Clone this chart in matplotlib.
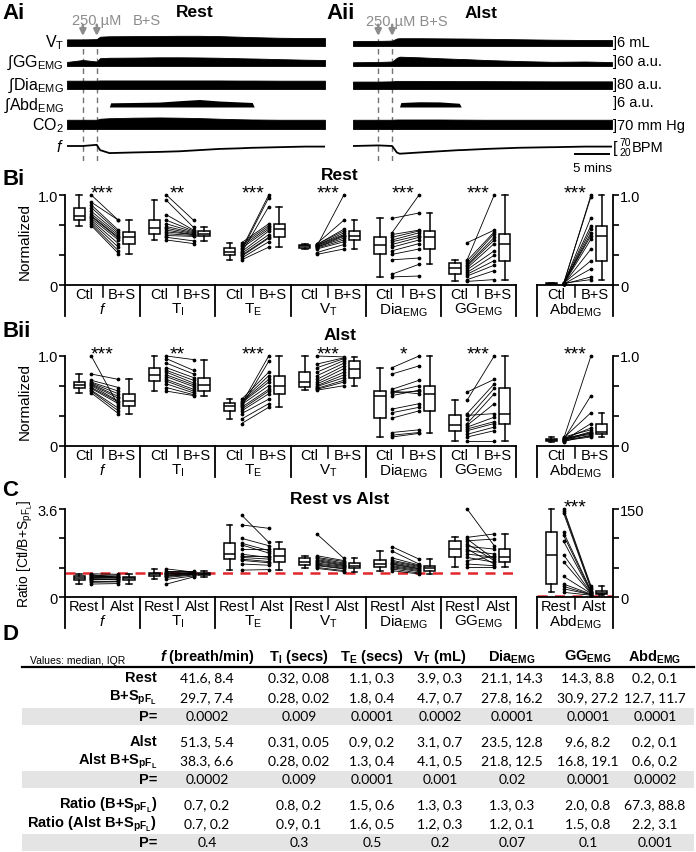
import matplotlib
matplotlib.use("Agg")
import matplotlib.pyplot as plt
from matplotlib.patches import Rectangle

W, H = 696, 853

plt.rcParams["font.family"] = ["Liberation Sans", "DejaVu Sans"]
plt.rcParams["mathtext.fontset"] = "custom"
plt.rcParams["mathtext.rm"] = "Liberation Sans"
plt.rcParams["mathtext.it"] = "Liberation Sans:italic"
plt.rcParams["mathtext.bf"] = "Liberation Sans:bold"
plt.rcParams["mathtext.bfit"] = "Liberation Sans:bold:italic"

# ---- A: envelopes of the raw recordings (time in minutes) ----
T_REST = [0, 2.4, 4.5, 5.0, 6.4, 6.6, 10, 14, 17, 20, 23, 26, 28, 28.3, 32, 36, 39]
VT_REST = [4.4, 4.4, 4.6, 6.2, 6.5, 6.5, 6.6, 6.7, 6.8, 6.8, 6.6, 6.2, 5.9, 5.9, 5.5, 5.3, 5.3]
GG_REST = [27, 40, 30, 52, 55, 55, 56, 58, 58, 57, 55, 52, 50, 50, 46, 42, 40]
DIA_REST = [74, 74, 74, 76, 76, 76, 76, 76, 76, 76, 76, 75, 75, 75, 74, 74, 74]
ABD_REST = [0, 0, 0, 0, 0, 2.8, 3.0, 3.3, 4.2, 5.0, 4.0, 3.4, 3.0, 0, 0, 0, 0]
CO2_REST = [72, 72, 72, 80, 84, 84, 88, 90, 88, 85, 80, 76, 74, 74, 72, 72, 72]
F_REST = [42, 42, 44, 35, 30, 30, 31, 32, 33, 35, 37, 38, 39, 39, 40, 41, 41]
ARROWS_REST = [2.4, 4.5]

T_ALST = [0, 3.8, 5.9, 6.6, 7.0, 7.2, 10, 13, 16, 16.3, 20, 25, 30, 30.3, 35, 39]
VT_ALST = [3.3, 3.4, 3.6, 5.0, 5.2, 5.2, 5.2, 5.1, 5.0, 5.0, 4.8, 4.5, 4.2, 4.2, 4.0, 4.0]
GG_ALST = [25, 27, 30, 55, 62, 62, 58, 52, 47, 47, 40, 33, 28, 28, 30, 26]
DIA_ALST = [66, 66, 68, 72, 72, 72, 72, 71, 70, 70, 70, 69, 68, 68, 68, 68]
ABD_ALST = [0, 0, 0, 0, 0, 3.0, 3.5, 3.4, 2.5, 0, 0, 0, 0, 0, 0, 0]
CO2_ALST = [72, 72, 72, 74, 74, 74, 74, 74, 73, 73, 72, 72, 72, 72, 72, 72]
F_ALST = [51, 52, 51, 40, 38, 38, 40, 42, 44, 44, 46, 48, 49, 49, 50, 50]
ARROWS_ALST = [3.8, 5.9]

TRACE_NAMES = ["V$_\\mathrm{T}$", "\u222bGG$_\\mathrm{EMG}$", "\u222bDia$_\\mathrm{EMG}$",
               "\u222bAbd$_\\mathrm{EMG}$", "CO$_2$", "$f$"]
SCALE_TEXT = ["]6 mL", "]60 a.u.", "]80 a.u.", "]6 a.u.", "]70 mm Hg"]

# ---- B: normalized values, paired per animal (n=13) ----
GROUPS = ["$f$", "T$_\\mathrm{I}$", "T$_\\mathrm{E}$", "V$_\\mathrm{T}$",
          "Dia$_\\mathrm{EMG}$", "GG$_\\mathrm{EMG}$"]
ABD_NAME = "Abd$_\\mathrm{EMG}$"

BI_F_CTL = [1.00, 0.92, 0.89, 0.86, 0.82, 0.79, 0.77, 0.76, 0.74, 0.72, 0.70, 0.68, 0.66]
BI_F_BS = [0.72, 0.72, 0.61, 0.59, 0.57, 0.55, 0.53, 0.52, 0.50, 0.46, 0.42, 0.38, 0.35]
BI_TI_CTL = [1.00, 0.94, 0.78, 0.72, 0.68, 0.65, 0.63, 0.61, 0.59, 0.57, 0.55, 0.53, 0.50]
BI_TI_BS = [0.72, 0.64, 0.61, 0.60, 0.59, 0.58, 0.57, 0.56, 0.56, 0.55, 0.54, 0.49, 0.46]
BI_TE_CTL = [0.40, 0.38, 0.36, 0.47, 0.45, 0.43, 0.41, 0.37, 0.35, 0.33, 0.32, 0.30, 0.28]
BI_TE_BS = [1.00, 0.97, 0.87, 0.68, 0.66, 0.64, 0.62, 0.60, 0.56, 0.53, 0.52, 0.48, 0.42]
BI_VT_CTL = [0.43, 0.46, 0.45, 0.45, 0.44, 0.44, 0.43, 0.42, 0.42, 0.41, 0.40, 0.36, 0.34]
BI_VT_BS = [1.00, 0.72, 0.62, 0.60, 0.58, 0.56, 0.55, 0.54, 0.52, 0.50, 0.48, 0.45, 0.40]
BI_DIA_CTL = [0.74, 0.58, 0.56, 0.53, 0.50, 0.48, 0.45, 0.42, 0.38, 0.34, 0.28, 0.12, 0.09]
BI_DIA_BS = [0.80, 1.00, 0.61, 0.60, 0.58, 0.55, 0.53, 0.50, 0.46, 0.40, 0.30, 0.23, 0.10]
BI_GG_CTL = [0.47, 0.28, 0.27, 0.24, 0.22, 0.21, 0.19, 0.17, 0.14, 0.12, 0.10, 0.06, 0.04]
BI_GG_BS = [0.61, 1.00, 0.59, 0.57, 0.53, 0.50, 0.46, 0.38, 0.33, 0.27, 0.22, 0.16, 0.06]
BI_ABD_CTL = [0.01, 0.02, 0.01, 0.02, 0.01, 0.01, 0.02, 0.01, 0.01, 0.02, 0.01, 0.01, 0.02]
BI_ABD_BS = [1.00, 0.98, 0.75, 0.66, 0.62, 0.58, 0.55, 0.51, 0.40, 0.27, 0.18, 0.09, 0.06]

BII_F_CTL = [1.00, 0.80, 0.73, 0.71, 0.70, 0.69, 0.68, 0.67, 0.65, 0.64, 0.62, 0.61, 0.59]
BII_F_BS = [0.45, 0.74, 0.65, 0.61, 0.58, 0.55, 0.53, 0.50, 0.49, 0.47, 0.42, 0.39, 0.36]
BII_TI_CTL = [1.00, 0.97, 0.92, 0.87, 0.84, 0.82, 0.79, 0.77, 0.74, 0.72, 0.69, 0.65, 0.61]
BII_TI_BS = [0.96, 0.84, 0.80, 0.76, 0.73, 0.70, 0.68, 0.66, 0.63, 0.61, 0.59, 0.57, 0.56]
BII_TE_CTL = [0.47, 0.44, 0.52, 0.50, 0.49, 0.48, 0.46, 0.43, 0.41, 0.39, 0.36, 0.30, 0.25]
BII_TE_BS = [1.00, 0.94, 0.82, 0.78, 0.74, 0.71, 0.67, 0.63, 0.61, 0.58, 0.52, 0.47, 0.43]
BII_VT_CTL = [1.00, 0.91, 0.87, 0.82, 0.78, 0.74, 0.71, 0.69, 0.67, 0.66, 0.64, 0.63, 0.62]
BII_VT_BS = [0.99, 0.98, 0.97, 0.95, 0.92, 0.89, 0.86, 0.82, 0.79, 0.76, 0.73, 0.71, 0.67]
BII_DIA_CTL = [0.87, 0.80, 0.63, 0.61, 0.60, 0.59, 0.56, 0.41, 0.37, 0.31, 0.15, 0.12, 0.10]
BII_DIA_BS = [1.00, 0.89, 0.73, 0.58, 0.67, 0.61, 0.62, 0.47, 0.43, 0.39, 0.18, 0.15, 0.14]
BII_GG_CTL = [0.60, 0.51, 0.36, 0.34, 0.30, 0.25, 0.23, 0.21, 0.19, 0.17, 0.13, 0.10, 0.06]
BII_GG_BS = [0.74, 1.00, 0.69, 0.36, 0.64, 0.58, 0.47, 0.32, 0.27, 0.25, 0.21, 0.17, 0.06]
BII_ABD_CTL = [0.08, 0.07, 0.09, 0.06, 0.08, 0.10, 0.07, 0.06, 0.09, 0.08, 0.05, 0.07, 0.06]
BII_ABD_BS = [1.00, 0.56, 0.37, 0.25, 0.20, 0.18, 0.16, 0.15, 0.14, 0.13, 0.12, 0.11, 0.10]

# ---- C: ratio Ctl / B+S, Rest vs Alst ----
C_F_REST = [0.95, 0.92, 0.88, 0.85, 0.82, 0.80, 0.78, 0.75, 0.72, 0.70, 0.66, 0.60, 0.53]
C_F_ALST = [0.93, 0.80, 0.90, 0.82, 0.86, 0.78, 0.80, 0.74, 0.70, 0.72, 0.66, 0.62, 0.55]
C_TI_REST = [1.15, 1.08, 1.04, 1.00, 0.97, 0.95, 0.93, 0.90, 0.87, 0.84, 0.80, 0.72, 0.53]
C_TI_ALST = [1.02, 1.08, 1.00, 1.04, 0.98, 0.96, 0.97, 0.94, 0.92, 0.93, 0.90, 0.86, 0.82]
C_TE_REST = [3.35, 2.95, 2.40, 2.20, 2.13, 1.95, 1.75, 1.69, 1.62, 1.55, 1.50, 1.35, 1.10]
C_TE_ALST = [2.24, 2.81, 2.10, 1.90, 1.80, 1.95, 1.62, 1.69, 1.55, 1.45, 1.40, 1.30, 1.12]
C_VT_REST = [2.58, 1.69, 1.62, 1.58, 1.53, 1.49, 1.45, 1.39, 1.35, 1.31, 1.28, 1.21, 1.17]
C_VT_ALST = [1.58, 1.49, 1.45, 1.39, 1.35, 1.31, 1.28, 1.25, 1.21, 1.17, 1.15, 1.08, 1.04]
C_DIA_REST = [2.06, 1.88, 1.60, 1.50, 1.45, 1.40, 1.36, 1.33, 1.28, 1.24, 1.20, 1.15, 1.08]
C_DIA_ALST = [1.55, 1.35, 1.31, 1.28, 1.25, 1.21, 1.17, 1.15, 1.12, 1.08, 1.04, 0.98, 0.94]
C_GG_REST = [3.60, 2.44, 2.37, 2.30, 2.17, 2.07, 1.96, 1.90, 1.76, 1.62, 1.49, 1.35, 1.21]
C_GG_ALST = [2.10, 2.58, 1.55, 2.37, 1.49, 1.96, 1.35, 1.76, 1.62, 1.42, 1.66, 1.28, 1.21]
C_ABD_REST = [150, 147, 143, 110, 105, 95, 72, 60, 35, 22, 18, 14, 8]
C_ABD_ALST = [19, 16, 14, 11, 9, 8, 7, 6, 6, 5, 4, 4, 3]

BI_STARS = ["***", "**", "***", "***", "***", "***"]
BII_STARS = ["***", "**", "***", "***", "*", "***"]
C_STARS = ["", "", "", "", "", ""]

# ---- D: table (median, IQR) ----
TABLE_HEAD = ["$\\mathbfit{f}$ (breath/min)", "T$_\\mathbf{I}$ (secs)", "T$_\\mathbf{E}$ (secs)",
              "V$_\\mathbf{T}$ (mL)", "Dia$_\\mathbf{EMG}$", "GG$_\\mathbf{EMG}$", "Abd$_\\mathbf{EMG}$"]
PFL = "$_{\\mathbf{pF}_\\mathbf{L}}$"
ROW_NAMES = ["Rest", "B+S" + PFL, "P=", "Alst", "Alst B+S" + PFL, "P=",
             "Ratio (B+S" + PFL + ")", "Ratio (Alst B+S" + PFL + ")", "P="]
ROW_REST = ["41.6, 8.4", "0.32, 0.08", "1.1, 0.3", "3.9, 0.3", "21.1, 14.3", "14.3, 8.8", "0.2, 0.1"]
ROW_BS = ["29.7, 7.4", "0.28, 0.02", "1.8, 0.4", "4.7, 0.7", "27.8, 16.2", "30.9, 27.2", "12.7, 11.7"]
ROW_P1 = ["0.0002", "0.009", "0.0001", "0.0002", "0.0001", "0.0001", "0.0001"]
ROW_ALST = ["51.3, 5.4", "0.31, 0.05", "0.9, 0.2", "3.1, 0.7", "23.5, 12.8", "9.6, 8.2", "0.2, 0.1"]
ROW_ALST_BS = ["38.3, 6.6", "0.28, 0.02", "1.3, 0.4", "4.1, 0.5", "21.8, 12.5", "16.8, 19.1", "0.6, 0.2"]
ROW_P2 = ["0.0002", "0.009", "0.0001", "0.001", "0.02", "0.0001", "0.0002"]
ROW_RATIO = ["0.7, 0.2", "0.8, 0.2", "1.5, 0.6", "1.3, 0.3", "1.3, 0.3", "2.0, 0.8", "67.3, 88.8"]
ROW_RATIO_ALST = ["0.7, 0.2", "0.9, 0.1", "1.6, 0.5", "1.2, 0.3", "1.2, 0.1", "1.5, 0.8", "2.2, 3.1"]
ROW_P3 = ["0.4", "0.3", "0.5", "0.2", "0.07", "0.1", "0.001"]

fig = plt.figure(figsize=(W / 100, H / 100), dpi=100)


def px_axes(x0, y0, x1, y1):
    # axes placed in pixel coordinates (y down)
    return fig.add_axes([x0 / W, 1 - y1 / H, (x1 - x0) / W, (y1 - y0) / H])


lay = px_axes(0, 0, W, H)
lay.set_xlim(0, W)
lay.set_ylim(H, 0)
lay.axis("off")

for lab, x, y in [("Ai", 2, 13), ("Aii", 326, 13), ("Bi", 2, 179), ("Bii", 2, 331),
                  ("C", 2, 491), ("D", 2, 634)]:
    lay.text(x, y, lab, fontsize=16, fontweight="bold", va="center", ha="left")


# ------------------------- panel A -------------------------
def trace_axes(x0, x1, bottom, ylo, upp):
    ax = px_axes(x0, bottom - 20, x1, bottom)
    ax.set_xlim(0, 39)
    ax.set_ylim(ylo, ylo + 20 * upp)
    ax.axis("off")
    return ax


def panel_a(x0, x1, t, arrows, vt, gg, dia, abd, co2, f):
    pan = px_axes(x0, 37, x1, 162)
    pan.set_xlim(0, 39)
    pan.set_ylim(0, 1)
    pan.axis("off")
    for ta in arrows:
        pan.axvline(ta, color="0.45", lw=1, ls=(0, (4, 3)))
        pan.annotate("", xy=(ta, 1.0), xytext=(ta, 1.09), annotation_clip=False,
                     arrowprops=dict(arrowstyle="-|>", color="0.55", lw=1.8,
                                     mutation_scale=9, shrinkA=0, shrinkB=0))
    for vals, base, upp in [(vt, 47, 6 / 9), (gg, 67, 60 / 9), (dia, 90, 80 / 9), (co2, 130, 70 / 9)]:
        ax = trace_axes(x0, x1, base, 0, upp)
        ax.fill_between(t, 0, vals, color="k", lw=0.6)
    ax = trace_axes(x0, x1, 108, 0, 6 / 9)
    ax.axhline(0, color="k", lw=0.7)
    ax.fill_between(t, 0, abd, color="k", lw=0)
    ax = trace_axes(x0, x1, 160, f[0] - 13 * 1.7, 1.7)
    ax.plot(t, f, color="k", lw=1.3)
    return pan


panel_a(67, 325, T_REST, ARROWS_REST, VT_REST, GG_REST, DIA_REST, ABD_REST, CO2_REST, F_REST)
pan2 = panel_a(353, 612, T_ALST, ARROWS_ALST, VT_ALST, GG_ALST, DIA_ALST, ABD_ALST, CO2_ALST, F_ALST)
pan2.plot([33.5, 38.5], [0.055, 0.055], color="k", lw=1.4, clip_on=False)
pan2.text(36, -0.01, "5 mins", ha="center", va="top", fontsize=9.5)

lay.text(195, 12, "Rest", fontsize=12.5, fontweight="bold", ha="center", va="center")
lay.text(481, 13, "Alst", fontsize=12.5, fontweight="bold", ha="center", va="center")
lay.text(72, 21, "250 \u00b5M", fontsize=10.5, color="0.55", ha="left", va="center")
lay.text(133, 21, "B+S", fontsize=10.5, color="0.55", ha="left", va="center")
lay.text(366, 22, "250 \u00b5M B+S", fontsize=10.5, color="0.55", ha="left", va="center")

for name, y in zip(TRACE_NAMES, [43, 63, 86, 106, 126, 147]):
    lay.text(64, y, name, fontsize=11.5, ha="right", va="center")
for s, y in zip(SCALE_TEXT, [43, 62, 85, 103, 126]):
    lay.text(613, y, s, fontsize=10.5, ha="left", va="center")
lay.text(613, 148, "[", fontsize=12, ha="left", va="center")
lay.text(619, 143, "70", fontsize=7.5, ha="left", va="center")
lay.text(619, 153, "20", fontsize=7.5, ha="left", va="center")
lay.text(632, 148, "BPM", fontsize=10.5, ha="left", va="center")


# ------------------------- panels B and C -------------------------
BOXKW = dict(widths=0.15, showfliers=False, patch_artist=True, manage_ticks=False,
             boxprops=dict(facecolor="white", edgecolor="k", lw=1.1),
             medianprops=dict(color="k", lw=1.1),
             whiskerprops=dict(color="k", lw=1.1),
             capprops=dict(color="k", lw=1.1))


def paired(ax, g, a, b):
    for ya, yb in zip(a, b):
        ax.plot([g + 0.35, g + 0.71], [ya, yb], color="k", lw=0.6, marker="o", ms=1.7,
                clip_on=False, zorder=3)
    bp = ax.boxplot([a, b], positions=[g + 0.19, g + 0.85], **BOXKW)
    for arts in bp.values():
        for art in arts:
            art.set_clip_on(False)


def under_labels(ax, n, h, left, right, names):
    tr = ax.get_xaxis_transform()
    k = 1.0 / h
    for g in range(n + 1):
        ax.plot([g, g], [0, -31 * k], color="k", lw=1.3, transform=tr, clip_on=False)
    for g in range(n):
        ax.plot([g + 0.5, g + 0.5], [0, -12 * k], color="k", lw=1.1, transform=tr, clip_on=False)
        ax.text(g + 0.25, -9 * k, left, transform=tr, ha="center", va="center", fontsize=10.5)
        ax.text(g + 0.76, -9 * k, right, transform=tr, ha="center", va="center", fontsize=10.5)
        ax.text(g + 0.5, -24 * k, names[g], transform=tr, ha="center", va="center", fontsize=11)


def style(ax, side, ticks, labels):
    for s in ["top", "right", "left", "bottom"]:
        ax.spines[s].set_visible(s in ("bottom", side))
        ax.spines[s].set_linewidth(1.3)
    ax.set_xticks([])
    if side == "right":
        ax.yaxis.tick_right()
    ax.set_yticks(ticks, labels)
    ax.tick_params(axis="y", direction="out", length=4, width=1.2, labelsize=10.5, pad=1)


def stars(ax, h, xs, marks):
    tr = ax.get_xaxis_transform()
    for x, m in zip(xs, marks):
        if m:
            ax.text(x, 1 - 2.0 / h, m, transform=tr, ha="center", va="baseline", fontsize=14)


def paired_panel(top, bot, ctl, bs, abd_ctl, abd_bs, ymax, yt, ylab, amax, at, alab,
                 marks, abd_mark, left, right):
    h = bot - top
    ax = px_axes(65, top, 516, bot)
    ab = px_axes(537, top, 613, bot)
    ax.set_xlim(0, 6)
    ax.set_ylim(0, ymax)
    ab.set_xlim(0, 1)
    ab.set_ylim(0, amax)
    style(ax, "left", yt, ylab)
    style(ab, "right", at, alab)
    for g in range(6):
        paired(ax, g, ctl[g], bs[g])
    paired(ab, 0, abd_ctl, abd_bs)
    under_labels(ax, 6, h, left, right, GROUPS)
    under_labels(ab, 1, h, left, right, [ABD_NAME])
    stars(ax, h, [g + 0.5 for g in range(6)], marks)
    stars(ab, h, [0.5], [abd_mark])
    return ax, ab


NT = [0, 1 / 3, 2 / 3, 1.0]
NL = ["0", "", "", "1.0"]
paired_panel(196, 286,
             [BI_F_CTL, BI_TI_CTL, BI_TE_CTL, BI_VT_CTL, BI_DIA_CTL, BI_GG_CTL],
             [BI_F_BS, BI_TI_BS, BI_TE_BS, BI_VT_BS, BI_DIA_BS, BI_GG_BS],
             BI_ABD_CTL, BI_ABD_BS, 1.0, NT, NL, 1.0, NT, NL, BI_STARS, "***", "Ctl", "B+S")
paired_panel(357, 447,
             [BII_F_CTL, BII_TI_CTL, BII_TE_CTL, BII_VT_CTL, BII_DIA_CTL, BII_GG_CTL],
             [BII_F_BS, BII_TI_BS, BII_TE_BS, BII_VT_BS, BII_DIA_BS, BII_GG_BS],
             BII_ABD_CTL, BII_ABD_BS, 1.0, NT, NL, 1.0, NT, NL, BII_STARS, "***", "Ctl", "B+S")
axc, abc = paired_panel(510, 598,
                        [C_F_REST, C_TI_REST, C_TE_REST, C_VT_REST, C_DIA_REST, C_GG_REST],
                        [C_F_ALST, C_TI_ALST, C_TE_ALST, C_VT_ALST, C_DIA_ALST, C_GG_ALST],
                        C_ABD_REST, C_ABD_ALST, 3.6, [0, 1.2, 2.4, 3.6], ["0", "", "", "3.6"],
                        150, [0, 50, 100, 150], ["0", "", "", "150"], C_STARS, "***", "Rest", "Alst")
for a in (axc, abc):
    a.axhline(1.0, color="#e3262b", lw=1.8, ls=(0, (4, 3)), zorder=1)

lay.text(340, 175, "Rest", fontsize=12.5, fontweight="bold", ha="center", va="center")
lay.text(340, 335, "Alst", fontsize=12.5, fontweight="bold", ha="center", va="center")
lay.text(340, 499, "Rest vs Alst", fontsize=12.5, fontweight="bold", ha="center", va="center")
lay.text(25, 241, "Normalized", fontsize=11, rotation=90, ha="center", va="center")
lay.text(25, 402, "Normalized", fontsize=11, rotation=90, ha="center", va="center")
lay.text(25, 554, "Ratio [Ctl/B+S$_{\\mathrm{pF}_\\mathrm{L}}$]", fontsize=10, rotation=90,
         ha="center", va="center")
lay.text(68, 278, "n=13", fontsize=8.5, ha="left", va="center")

# ------------------------- panel D -------------------------
COL_X = [207, 299, 372, 440, 512, 588, 655]
ROW_Y = [678, 698, 717, 742, 761, 780, 805, 824, 843]
ROWS = [ROW_REST, ROW_BS, ROW_P1, ROW_ALST, ROW_ALST_BS, ROW_P2, ROW_RATIO, ROW_RATIO_ALST, ROW_P3]

for i in (2, 5, 8):
    lay.add_patch(Rectangle((22, ROW_Y[i] - 8.5), 672, 17, facecolor="#e4e4e4", edgecolor="none", zorder=0))
lay.plot([22, 694], [668, 668], color="k", lw=1.6)
lay.text(30, 661, "Values: median, IQR", fontsize=7.5, ha="left", va="center")
for x, hd in zip(COL_X, TABLE_HEAD):
    lay.text(x, 657, hd, fontsize=10.5, fontweight="bold", ha="center", va="center")
for y, name, vals in zip(ROW_Y, ROW_NAMES, ROWS):
    lay.text(157, y, name, fontsize=10.5, fontweight="bold", ha="right", va="center")
    for x, v in zip(COL_X, vals):
        lay.text(x, y, v, fontsize=10, family="Lato", ha="center", va="center")

fig.savefig("out.png", dpi=100)
